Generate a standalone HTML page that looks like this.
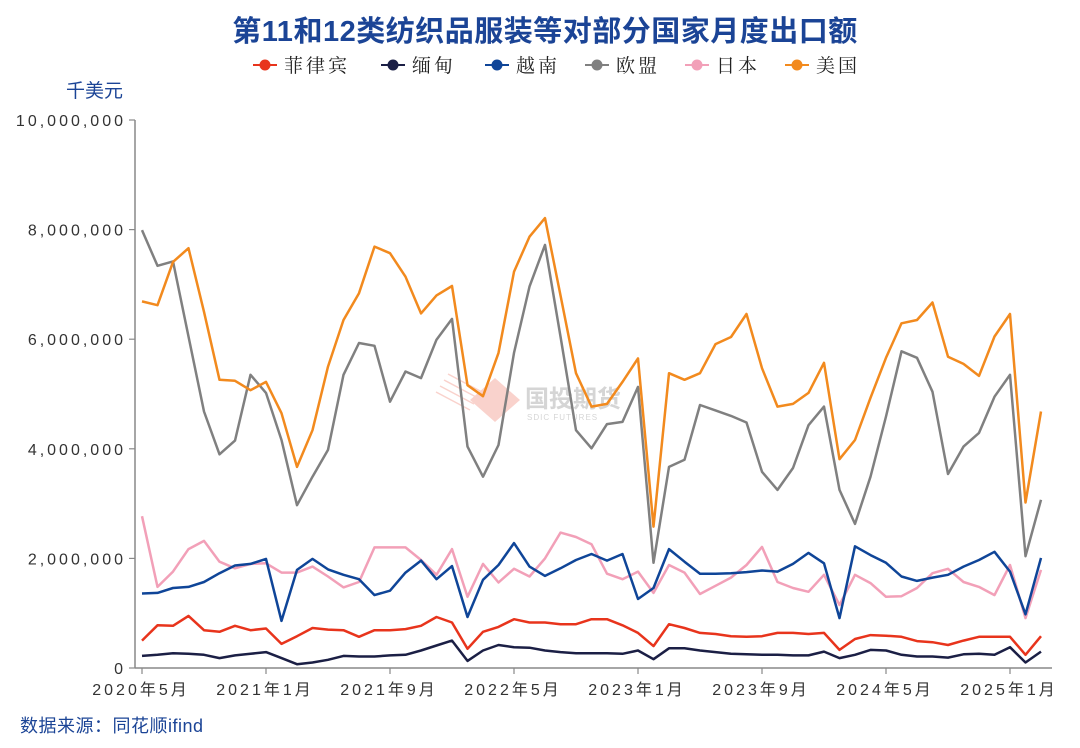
<!DOCTYPE html>
<html><head><meta charset="utf-8"><style>
html,body{margin:0;padding:0;background:#fff;}
svg{display:block;}
</style></head><body>
<svg id="chart" width="1080" height="748" viewBox="0 0 1080 748" xmlns="http://www.w3.org/2000/svg">
<text x="545" y="41" text-anchor="middle" font-family="'Liberation Sans','Noto Sans CJK SC',sans-serif" font-size="29" font-weight="bold" fill="#1b4496" letter-spacing="0.5">第11和12类纺织品服装等对部分国家月度出口额</text>
<text x="66" y="97" font-family="'Liberation Sans','Noto Sans CJK SC',sans-serif" font-size="19" fill="#1b4496">千美元</text>
<text x="20" y="732" font-family="'Liberation Sans','Noto Sans CJK SC',sans-serif" font-size="18" fill="#1b4496" letter-spacing="0.5">数据来源：同花顺ifind</text>
<g opacity="0.35">
<polygon points="470,400 495,378 520,400 495,422" fill="#f08070"/>
<g stroke="#f08070" stroke-width="1.5"><line x1="436" y1="392" x2="470" y2="410"/><line x1="440" y1="386" x2="474" y2="404"/><line x1="444" y1="380" x2="478" y2="398"/><line x1="448" y1="374" x2="482" y2="392"/></g>
<text x="525" y="407" font-family="'Liberation Sans','Noto Sans CJK SC',sans-serif" font-size="24" font-weight="bold" fill="#888">国投期货</text>
<text x="527" y="420" font-family="'Liberation Sans',sans-serif" font-size="8" fill="#888" letter-spacing="1">SDIC FUTURES</text>
</g>
<g id="legend"></g>
<g id="axes"></g>
<g id="series"></g>
</svg>
<script>
const months = ["2020-05","2020-06","2020-07","2020-08","2020-09","2020-10","2020-11","2020-12","2021-01","2021-02","2021-03","2021-04","2021-05","2021-06","2021-07","2021-08","2021-09","2021-10","2021-11","2021-12","2022-01","2022-02","2022-03","2022-04","2022-05","2022-06","2022-07","2022-08","2022-09","2022-10","2022-11","2022-12","2023-01","2023-02","2023-03","2023-04","2023-05","2023-06","2023-07","2023-08","2023-09","2023-10","2023-11","2023-12","2024-01","2024-02","2024-03","2024-04","2024-05","2024-06","2024-07","2024-08","2024-09","2024-10","2024-11","2024-12","2025-01","2025-02","2025-03"];
const xTickLabels = ["2020年5月","2021年1月","2021年9月","2022年5月","2023年1月","2023年9月","2024年5月","2025年1月"];
const xTickIndex = [0,8,16,24,32,40,48,56];
const yTicks = [0,2000000,4000000,6000000,8000000,10000000];
const yTickLabels = ["0","2,000,000","4,000,000","6,000,000","8,000,000","10,000,000"];
const seriesNames = ["菲律宾","缅甸","越南","欧盟","日本","美国"];
const seriesColors = ["#e8341c","#1b1f45","#0f4598","#808080","#f2a0b8","#f28a1e"];
const philippines = [0.5,0.78,0.77,0.95,0.69,0.66,0.77,0.69,0.72,0.44,0.58,0.73,0.70,0.69,0.57,0.69,0.69,0.71,0.77,0.93,0.83,0.35,0.66,0.75,0.89,0.83,0.83,0.8,0.8,0.89,0.89,0.78,0.64,0.4,0.8,0.73,0.64,0.62,0.58,0.57,0.58,0.64,0.64,0.62,0.64,0.33,0.53,0.6,0.59,0.57,0.49,0.47,0.42,0.5,0.57,0.57,0.57,0.24,0.58];
const myanmar = [0.22,0.24,0.27,0.26,0.24,0.18,0.23,0.26,0.29,0.18,0.07,0.1,0.15,0.22,0.21,0.21,0.23,0.24,0.32,0.41,0.5,0.13,0.32,0.42,0.38,0.37,0.32,0.29,0.27,0.27,0.27,0.26,0.32,0.16,0.36,0.36,0.32,0.29,0.26,0.25,0.24,0.24,0.23,0.23,0.3,0.18,0.24,0.33,0.32,0.24,0.21,0.21,0.19,0.25,0.26,0.24,0.38,0.1,0.3];
const vietnam = [1.36,1.37,1.46,1.48,1.57,1.73,1.87,1.9,1.99,0.86,1.79,1.99,1.8,1.7,1.62,1.33,1.41,1.74,1.96,1.62,1.86,0.93,1.61,1.88,2.28,1.85,1.68,1.82,1.97,2.08,1.96,2.08,1.26,1.46,2.17,1.94,1.72,1.72,1.73,1.75,1.78,1.76,1.9,2.1,1.91,0.91,2.22,2.06,1.92,1.67,1.59,1.65,1.7,1.85,1.97,2.12,1.76,0.98,2.01];
const eu = [7.99,7.34,7.42,6.05,4.68,3.9,4.15,5.35,5.02,4.16,2.97,3.49,3.98,5.35,5.93,5.88,4.86,5.41,5.29,5.99,6.37,4.04,3.49,4.07,5.75,6.96,7.72,6.05,4.34,4.01,4.45,4.49,5.13,1.92,3.67,3.8,4.8,4.7,4.6,4.48,3.58,3.25,3.65,4.43,4.77,3.25,2.63,3.49,4.59,5.78,5.66,5.04,3.54,4.04,4.29,4.95,5.35,2.04,3.07];
const japan = [2.77,1.48,1.76,2.17,2.32,1.94,1.82,1.9,1.91,1.74,1.74,1.85,1.67,1.47,1.57,2.2,2.2,2.2,1.97,1.7,2.17,1.3,1.9,1.56,1.81,1.67,2.0,2.47,2.39,2.26,1.72,1.62,1.76,1.37,1.88,1.74,1.35,1.5,1.65,1.88,2.21,1.57,1.46,1.39,1.7,1.15,1.7,1.55,1.3,1.31,1.46,1.73,1.81,1.57,1.48,1.33,1.88,0.91,1.79];
const usa = [6.69,6.62,7.41,7.66,6.5,5.26,5.24,5.07,5.22,4.65,3.67,4.34,5.5,6.35,6.84,7.69,7.57,7.14,6.47,6.8,6.97,5.16,4.96,5.75,7.23,7.87,8.21,6.8,5.38,4.77,4.82,5.22,5.65,2.58,5.38,5.26,5.38,5.91,6.04,6.46,5.47,4.77,4.82,5.02,5.57,3.81,4.16,4.93,5.66,6.29,6.35,6.67,5.68,5.55,5.33,6.05,6.46,3.02,4.68];
const allSeries = [philippines,myanmar,vietnam,eu,japan,usa];

const NS="http://www.w3.org/2000/svg";
const X0=142, DX=15.5, Y0=668, YTOP=120, YMAX=10000000;
function xScale(i){return X0+DX*i;}
function yScale(v){return Y0-(v/YMAX)*(Y0-YTOP);}
function mk(tag,attrs,parent){const e=document.createElementNS(NS,tag);for(const k in attrs)e.setAttribute(k,attrs[k]);parent.appendChild(e);return e;}
const axes=document.getElementById('axes');
const FONT="'Liberation Sans','Noto Sans CJK SC',sans-serif";
const yAxis=mk('line',{x1:135,y1:YTOP,x2:135,y2:Y0,stroke:'#888','stroke-width':1.5},axes);


const xAxis=mk('line',{x1:135,y1:Y0,x2:1052,y2:Y0,stroke:'#888','stroke-width':1.5},axes);


yTicks.forEach((v,k)=>{
  const y=yScale(v);
  mk('line',{x1:129,y1:y,x2:135,y2:y,stroke:'#888','stroke-width':1.2},axes);
  const t=mk('text',{x:126,y:y+6,'text-anchor':'end','font-family':FONT,'font-size':16,fill:'#333','letter-spacing':'3'},axes);
  t.textContent=yTickLabels[k];
  
  
});
xTickIndex.forEach((idx,k)=>{
  const x=xScale(idx);
  mk('line',{x1:x,y1:Y0,x2:x,y2:Y0+6,stroke:'#888','stroke-width':1.2},axes);
  const t=mk('text',{x:x-1,y:Y0+27,'text-anchor':'middle','font-family':FONT,'font-size':16,fill:'#333','letter-spacing':'3'},axes);
  t.textContent=xTickLabels[k];
  
  
});
const sg=document.getElementById('series');
const order=[3,5,4,2,0,1];
order.forEach(s=>{
  const pts=allSeries[s].map((v,i)=>xScale(i).toFixed(1)+','+yScale(v*1e6).toFixed(1)).join(' ');
  const p=mk('polyline',{points:pts,fill:'none',stroke:seriesColors[s],'stroke-width':2.5,'stroke-linejoin':'round'},sg);
  
  
});
const lg=document.getElementById('legend');
const legendX=[253,381,485,585,685,785];
seriesNames.forEach((n,s)=>{
  const g=mk('g',{},lg);
  
  
  const x=legendX[s];
  mk('line',{x1:x,y1:65,x2:x+24,y2:65,stroke:seriesColors[s],'stroke-width':2},g);
  mk('circle',{cx:x+12,cy:65,r:5.5,fill:seriesColors[s]},g);
  const t=mk('text',{x:x+31,y:72,'font-family':"'Liberation Serif','Noto Serif CJK SC',serif",'font-size':19,fill:'#222','letter-spacing':'3'},g);
  t.textContent=n;
});
</script>
</body></html>
